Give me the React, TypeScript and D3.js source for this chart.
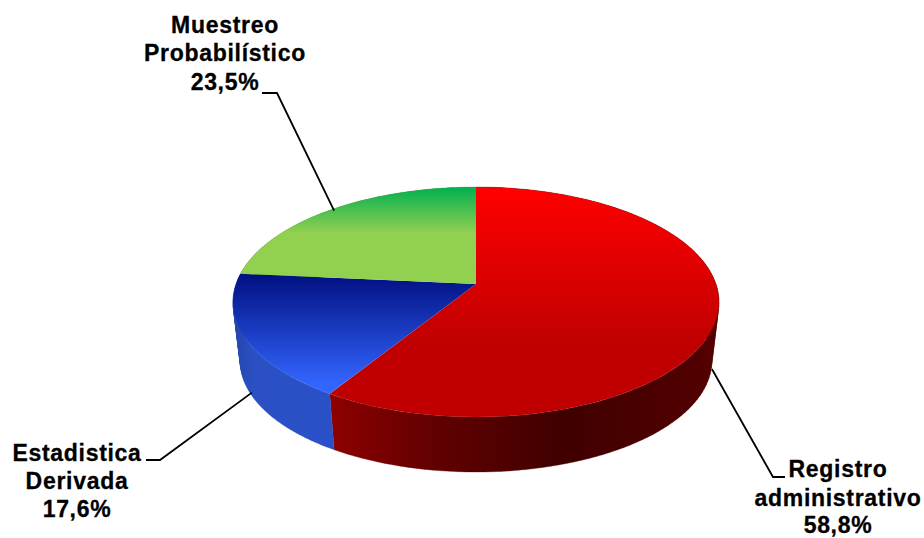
import React from "react";
import * as d3 from "d3";

const categories = ["Registro administrativo", "Estadistica Derivada", "Muestreo Probabilístico"];
const shares = [58.8, 17.6, 23.5];
const labelLines = [
  ["Registro", "administrativo", "58,8%"],
  ["Estadistica", "Derivada", "17,6%"],
  ["Muestreo", "Probabilístico", "23,5%"],
];
// label block centre x, baselines, leader nudge, elbow and end
const labelPlace = [
  { x: 838, ys: [477, 506, 533], nudge: [2, -6], elbow: [773, 477], end: [785, 477], wall: true },
  { x: 77, ys: [461, 489, 517], nudge: [0, -3], elbow: [160, 460], end: [146, 460], wall: true },
  { x: 225, ys: [33, 61, 90], nudge: [3, 1], elbow: [277, 93], end: [262, 93], wall: false },
];
const topColors = ["url(#topRed)", "url(#topBlue)", "url(#topGreen)"];
const wallColors = ["url(#wallRed)", "url(#wallBlue)", "#5c9a3a"];

const CX = 476, CY = 284, A = 240, B = 112.2, K = 0.1565;
const WALL_SCALE = 0.97, WALL_CY = 344, WALL_B = 108;

type Pt = [number, number];
const top = (t: number): Pt => {
  const u = Math.sin(t), v = -Math.cos(t), w = 1 - K * v;
  return [CX + (A * u) / w, CY + (B * v) / w];
};
const bottom = (t: number): Pt => {
  const u = Math.sin(t), v = -Math.cos(t), w = 1 - K * v;
  return [CX + (WALL_SCALE * A * u) / w, WALL_CY + (WALL_B * v) / w];
};

const arcs = d3.pie<number>().sort(null)(shares);
const line = d3.line();
const samples = (a: number, b: number, n = 60) => d3.range(0, n + 1).map((i) => a + ((b - a) * i) / n);

// The wall is a strip of small quads, all wound the same way, so it also
// fills the straight silhouette between the top and bottom rims.
const wallPath = (a: number, b: number) => {
  const ts = samples(a, b, 120);
  return d3
    .pairs(ts)
    .map(([t0, t1]) => {
      const q: Pt[] = [top(t0), top(t1), bottom(t1), bottom(t0)];
      if (d3.polygonArea(q) < 0) q.reverse();
      return line(q) + "Z";
    })
    .join("");
};

export default function App() {
  return (
    <svg width={924} height={538} style={{ position: "absolute", left: 0, top: 0 }}>
      <defs>
        <linearGradient id="topRed" gradientUnits="userSpaceOnUse" x1="0" x2="0" y1="187" y2="345">
          <stop offset="0" stopColor="#ff0000" />
          <stop offset="1" stopColor="#c00000" />
        </linearGradient>
        <linearGradient id="topBlue" gradientUnits="userSpaceOnUse" x1="0" x2="0" y1="273" y2="385">
          <stop offset="0" stopColor="#000f80" />
          <stop offset="1" stopColor="#3366ff" />
        </linearGradient>
        <linearGradient id="topGreen" gradientUnits="userSpaceOnUse" x1="0" x2="0" y1="187" y2="233">
          <stop offset="0" stopColor="#00b050" />
          <stop offset="1" stopColor="#92d050" />
        </linearGradient>
        <linearGradient id="wallRed" gradientUnits="userSpaceOnUse" x1="330" x2="720" y1="0" y2="0">
          <stop offset="0" stopColor="#8e0000" />
          <stop offset="0.25" stopColor="#640000" />
          <stop offset="0.6" stopColor="#400000" />
          <stop offset="1" stopColor="#540000" />
        </linearGradient>
        <linearGradient id="wallBlue" gradientUnits="userSpaceOnUse" x1="233" x2="333" y1="0" y2="0">
          <stop offset="0" stopColor="#2444a8" />
          <stop offset="0.2" stopColor="#2b50c4" />
          <stop offset="1" stopColor="#2a50c8" />
        </linearGradient>
      </defs>
      {arcs.map((a, i) => (
        <path key={"w" + i} d={wallPath(a.startAngle, a.endAngle)} fill={wallColors[i]} stroke={wallColors[i]} strokeWidth={0.3} />
      ))}
      {arcs.map((a, i) => {
        const ts = samples(a.startAngle, a.endAngle);
        const d = line([[CX, CY], ...ts.map((t) => top(t))]) + "Z";
        return <path key={"t" + i} d={d} fill={topColors[i]} />;
      })}
      {arcs.map((a, i) => {
        const mid = (a.startAngle + a.endAngle) / 2;
        const p = labelPlace[i];
        const base = p.wall ? bottom(mid) : top(mid);
        const start: Pt = [base[0] + p.nudge[0], base[1] + p.nudge[1]];
        return (
          <path
            key={"l" + i}
            d={line([start, p.elbow as Pt, p.end as Pt]) as string}
            fill="none"
            stroke="#000"
            strokeWidth={1.8}
          />
        );
      })}
      {labelLines.map((lines, i) => (
        <text
          key={categories[i]}
          textAnchor="middle"
          fontFamily="'Liberation Sans', Arial, sans-serif"
          fontWeight="bold"
          fontSize={23}
          letterSpacing={0.7}
          fill="#000"
          stroke="#000"
          strokeWidth={0.3}
        >
          {lines.map((s, j) => (
            <tspan key={j} x={labelPlace[i].x} y={labelPlace[i].ys[j]}>
              {s}
            </tspan>
          ))}
        </text>
      ))}
    </svg>
  );
}
